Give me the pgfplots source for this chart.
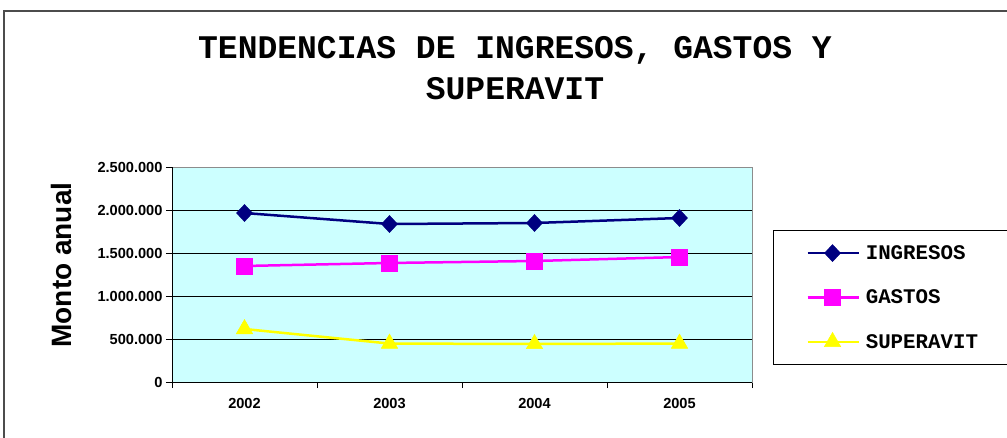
\documentclass[border=0pt]{standalone}
\usepackage{fontspec}
\setmainfont{Liberation Sans}
\newfontfamily\courier{Liberation Mono}
\usepackage{pgfplots}
\pgfplotsset{compat=1.18}
\definecolor{navyc}{HTML}{000080}
\definecolor{magc}{HTML}{FF00FF}
\definecolor{yelc}{HTML}{FFFF00}
\definecolor{bgc}{HTML}{CCFFFF}
\begin{document}
\begin{tikzpicture}[x=1pt,y=1pt]
\path[use as bounding box] (0,0) rectangle (1007,437);
\draw[black!70, line width=1.5pt] (4,-20) -- (4,426) -- (1030,426);
\node[font=\courier\bfseries\fontsize{33}{41}\selectfont, align=center] at (515,369) {TENDENCIAS DE INGRESOS, GASTOS Y\\SUPERAVIT};
\begin{axis}[
  at={(172pt,55pt)}, anchor=south west,
  width=580pt, height=215pt, scale only axis,
  xmin=-0.5, xmax=3.5, ymin=0, ymax=2500000,
  axis background/.style={fill=bgc},
  axis line style={black!45, line width=1pt},
  xtick={-0.5,0.5,1.5,2.5,3.5},
  xticklabels={2002,2003,2004,2005,{}},
  xticklabel style={xshift=72.5pt, yshift=-7pt, font=\bfseries\fontsize{14.6}{16}\selectfont},
  ytick={0,500000,1000000,1500000,2000000,2500000},
  yticklabel style={font=\bfseries\fontsize{14.6}{16}\selectfont},
  /pgf/number format/fixed,
  /pgf/number format/1000 sep={.},
  /pgf/number format/assume math mode=true,
  scaled y ticks=false,
  xtick pos=bottom, ytick pos=left,
  ymajorgrids, grid style={black, line width=0.8pt},
  tick align=outside, major tick length=6pt,
  tick style={black, line width=0.8pt},
  ylabel={Monto anual},
  ylabel style={font=\bfseries\fontsize{28}{30}\selectfont, at={(axis description cs:-0.19,0.544)}, anchor=center},
  legend style={at={(1.036,0.707)}, anchor=north west, draw=black, line width=0.8pt,
    font=\courier\bfseries\fontsize{20.8}{24}\selectfont,
    inner xsep=33pt, inner ysep=13pt, row sep=25pt,
    /tikz/every odd column/.append style={column sep=4pt}},
  legend cell align=left,
  legend image code/.code={\draw[mark repeat=2, mark phase=2] plot coordinates {(0pt,0pt) (25pt,0pt) (51pt,0pt)};},
]
\addplot[navyc, line width=2.5pt, mark=diamond*, mark size=8.5pt, mark options={fill=navyc, line width=0.5pt, xscale=1.25}]
  coordinates {(0,1965000) (1,1837000) (2,1849000) (3,1907000)};
\addlegendentry{INGRESOS}
\addplot[magc, line width=2.5pt, mark=square*, mark size=8pt, mark options={fill=magc, line width=0.5pt}]
  coordinates {(0,1349000) (1,1384000) (2,1407000) (3,1453000)};
\addlegendentry{GASTOS}
\addplot[yelc, line width=2.5pt, mark=triangle*, mark size=9.5pt, mark options={fill=yelc, line width=0.5pt}]
  coordinates {(0,616000) (1,447000) (2,442000) (3,447000)};
\addlegendentry{SUPERAVIT\hspace*{20pt}}
\draw[black, line width=1pt] (rel axis cs:0,1) -- (rel axis cs:0,0) -- (rel axis cs:1,0);
\end{axis}
\end{tikzpicture}
\end{document}
